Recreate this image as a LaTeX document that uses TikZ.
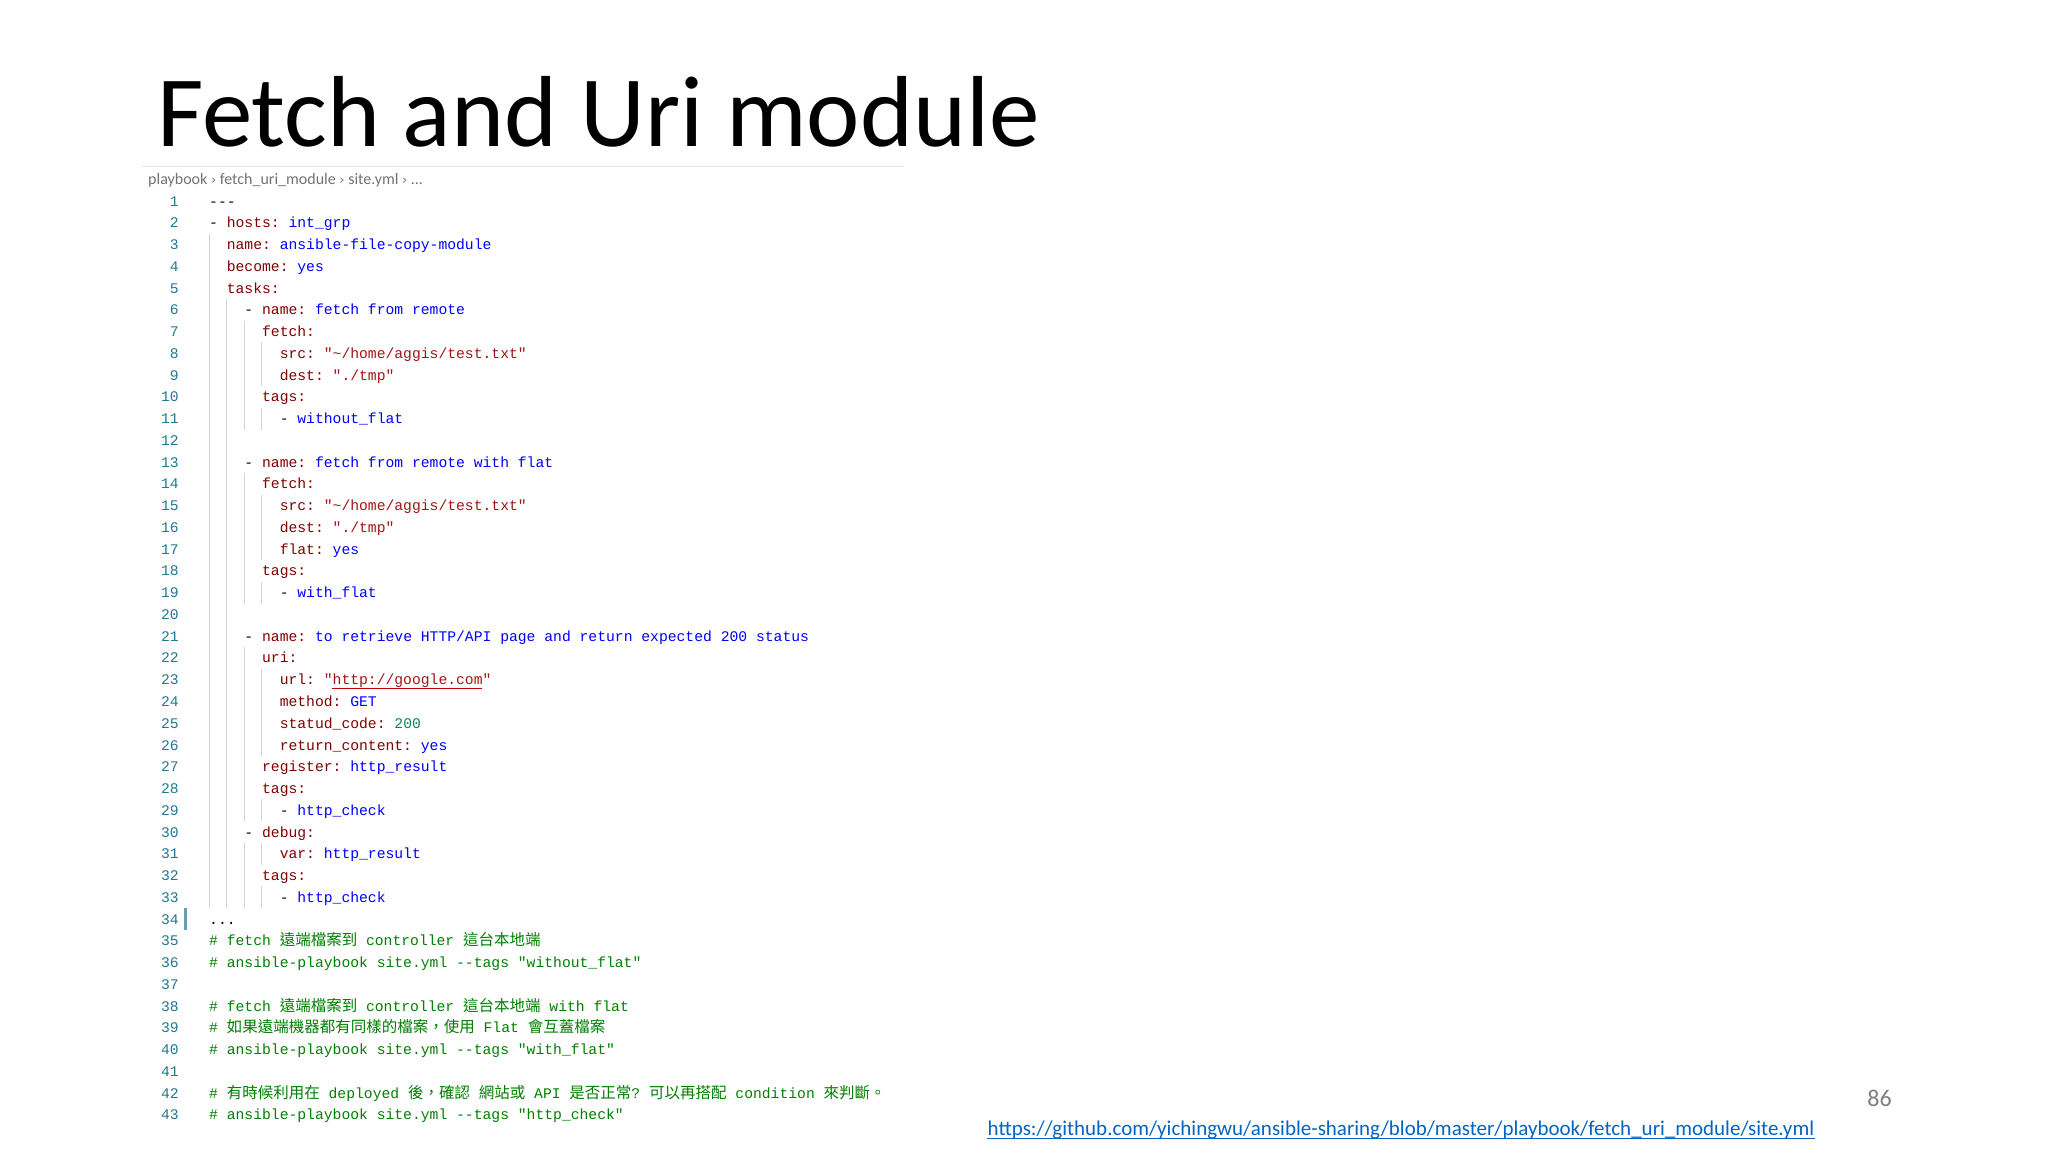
\documentclass[tikz,border=0pt]{standalone}
\usepackage{fontspec}
\setmainfont{Carlito}
\setmonofont{Liberation Mono}
\newfontfamily\cjk{Noto Sans CJK TC}
\newfontfamily\djv{DejaVu Sans}
\definecolor{kcol}{HTML}{800000}
\definecolor{vcol}{HTML}{0000FF}
\definecolor{scol}{HTML}{A31515}
\definecolor{ncol}{HTML}{098658}
\definecolor{ccol}{HTML}{008000}
\definecolor{lncol}{HTML}{237893}
\definecolor{guide}{HTML}{D3D3D3}
\newcommand\K[1]{\textcolor{kcol}{#1}}
\newcommand\V[1]{\textcolor{vcol}{#1}}
\newcommand\Sg[1]{\textcolor{scol}{#1}}
\newcommand\Nm[1]{\textcolor{ncol}{#1}}
\newcommand\Cj[1]{{\cjk\fontsize{15.5}{18}\selectfont #1}}
\newcommand\chev{{\djv\fontsize{13}{16}\selectfont\symbol{"203A}}}
\newcommand\LY[1]{201+(#1-1)*21.76}
\newcommand\cl[3]{\node[code] (l#1) at ({209+#2*8.82},{\LY{#1}+5}) {#3};}
\newcommand\gd[3]{\draw[guide] ({209+#1*8.82},{\LY{#2}-11}) -- ({209+#1*8.82},{\LY{#3}+11});}
\begin{document}
\begin{tikzpicture}[x=1pt,y=-1pt,
  code/.style={anchor=base west,inner sep=0,font=\ttfamily\fontsize{14.7}{18}\selectfont,text=kcol},
  lnum/.style={anchor=base east,inner sep=0,font=\ttfamily\fontsize{14.7}{18}\selectfont,text=lncol},
  guide/.style={draw=guide,line width=0.9pt}]
\useasboundingbox[fill=white] (0,0) rectangle (2048,1152);
\node[anchor=base west,inner sep=0,font=\fontsize{101}{110}\selectfont] (title) at (157,146) {Fetch and Uri module};
\draw[draw=black!8,line width=1pt] (141,166) -- (904,166);
\node[anchor=base west,inner sep=0,font=\fontsize{16}{18}\selectfont,text=black!55] (crumb) at (148,184) {playbook \chev{} fetch\_uri\_module \chev{} site.yml \chev{} ...};
\foreach \i in {1,...,43}{\node[lnum] (n\i) at (179,{\LY{\i}+5}) {\i};}
% guides
\gd{0}{3}{33}
\gd{2}{6}{33}
\gd{4}{7}{11}\gd{4}{14}{19}\gd{4}{22}{29}\gd{4}{31}{33}
\gd{6}{8}{9}\gd{6}{11}{11}\gd{6}{15}{17}\gd{6}{19}{19}\gd{6}{23}{26}\gd{6}{29}{29}\gd{6}{31}{31}\gd{6}{33}{33}
\fill[fill=lncol!70] (184,{\LY{34}-11}) rectangle (187,{\LY{34}+11});
\cl{1}{0}{\textcolor{black}{---}}
\cl{2}{0}{\textcolor{black}{-} hosts: \V{int\_grp}}
\cl{3}{2}{name: \V{ansible-file-copy-module}}
\cl{4}{2}{become: \V{yes}}
\cl{5}{2}{tasks:}
\cl{6}{4}{\textcolor{black}{-} name: \V{fetch from remote}}
\cl{7}{6}{fetch:}
\cl{8}{8}{src: \Sg{"\textasciitilde/home/aggis/test.txt"}}
\cl{9}{8}{dest: \Sg{"./tmp"}}
\cl{10}{6}{tags:}
\cl{11}{8}{\textcolor{black}{-} \V{without\_flat}}
\cl{13}{4}{\textcolor{black}{-} name: \V{fetch from remote with flat}}
\cl{14}{6}{fetch:}
\cl{15}{8}{src: \Sg{"\textasciitilde/home/aggis/test.txt"}}
\cl{16}{8}{dest: \Sg{"./tmp"}}
\cl{17}{8}{flat: \V{yes}}
\cl{18}{6}{tags:}
\cl{19}{8}{\textcolor{black}{-} \V{with\_flat}}
\cl{21}{4}{\textcolor{black}{-} name: \V{to retrieve HTTP/API page and return expected 200 status}}
\cl{22}{6}{uri:}
\cl{23}{8}{url: \Sg{"http://google.com"}}
\cl{24}{8}{method: \V{GET}}
\cl{25}{8}{statud\_code: \Nm{200}}
\cl{26}{8}{return\_content: \V{yes}}
\cl{27}{6}{register: \V{http\_result}}
\cl{28}{6}{tags:}
\cl{29}{8}{\textcolor{black}{-} \V{http\_check}}
\cl{30}{4}{\textcolor{black}{-} debug:}
\cl{31}{8}{var: \V{http\_result}}
\cl{32}{6}{tags:}
\cl{33}{8}{\textcolor{black}{-} \V{http\_check}}
\cl{34}{0}{\textcolor{black}{...}}
\cl{35}{0}{\textcolor{ccol}{\# fetch \Cj{遠端檔案到} controller \Cj{這台本地端}}}
\cl{36}{0}{\textcolor{ccol}{\# ansible-playbook site.yml --tags "without\_flat"}}
\cl{38}{0}{\textcolor{ccol}{\# fetch \Cj{遠端檔案到} controller \Cj{這台本地端} with flat}}
\cl{39}{0}{\textcolor{ccol}{\# \Cj{如果遠端機器都有同樣的檔案，使用} Flat \Cj{會互蓋檔案}}}
\cl{40}{0}{\textcolor{ccol}{\# ansible-playbook site.yml --tags "with\_flat"}}
\cl{42}{0}{\textcolor{ccol}{\# \Cj{有時候利用在} deployed \Cj{後，確認} \Cj{網站或} API \Cj{是否正常}? \Cj{可以再搭配} condition \Cj{來判斷。}}}
\cl{43}{0}{\textcolor{ccol}{\# ansible-playbook site.yml --tags "http\_check"}}
\draw[draw=red!75!black,line width=1pt] ({209+14*8.82},{\LY{23}+9}) -- ({209+31*8.82},{\LY{23}+9});
\node[anchor=base east,inner sep=0,font=\fontsize{24}{26}\selectfont,text=black!50] (page) at (1892,1106) {86};
\node[anchor=base,inner sep=0,font=\fontsize{21}{22}\selectfont,text={rgb,255:red,5;green,99;blue,193}] (url) at (1401,1135) {https://github.com/yichingwu/ansible-sharing/blob/master/playbook/fetch\_uri\_module/site.yml};
\draw[draw={rgb,255:red,5;green,99;blue,193},line width=1pt] ([yshift=-3pt]url.base west) -- ([yshift=-3pt]url.base east);
\end{tikzpicture}
\end{document}
